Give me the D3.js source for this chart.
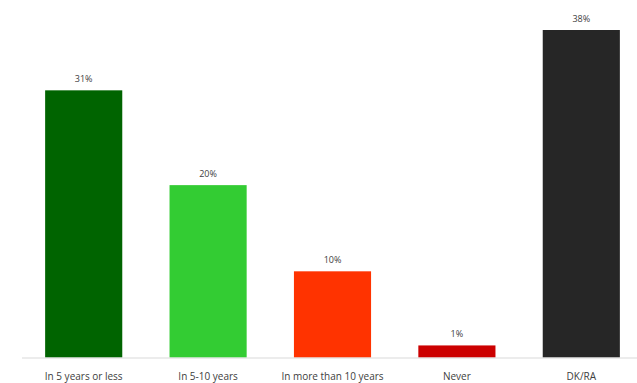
<!DOCTYPE html>
<html>
<head>
<meta charset="utf-8">
<script src="https://cdn.jsdelivr.net/npm/d3@7"></script>
<style>
  html, body { margin: 0; padding: 0; background: #fff; }
  svg { display: block; }
</style>
</head>
<body>
<script>
const categories = ["In 5 years or less", "In 5-10 years", "In more than 10 years", "Never", "DK/RA"];
const values = [31, 20, 10, 1.4, 38];
const valueLabels = ["31%", "20%", "10%", "1%", "38%"];
const colors = ["#006400", "#33cc33", "#ff3300", "#cc0000", "#262626"];

const W = 637, H = 383;
const svg = d3.select("body").append("svg").attr("width", W).attr("height", H);

const x = d3.scaleBand().domain(categories).range([21.5, 643.5]).paddingInner(0.38).paddingOuter(0.19);
const y = d3.scaleLinear().domain([0, 38]).range([357.5, 30]);

svg.selectAll("rect.bar").data(categories).join("rect")
  .attr("class", "bar")
  .attr("x", d => x(d))
  .attr("width", x.bandwidth())
  .attr("y", (d, i) => y(values[i]))
  .attr("height", (d, i) => y(0) - y(values[i]))
  .attr("fill", (d, i) => colors[i]);

svg.selectAll("text.val").data(categories).join("text")
  .attr("class", "val")
  .attr("x", d => x(d) + x.bandwidth() / 2)
  .attr("y", (d, i) => y(values[i]) - 8)
  .attr("text-anchor", "middle")
  .attr("font-family", "'Open Sans', 'DejaVu Sans', sans-serif")
  .attr("font-size", 9)
  .attr("fill", "#404040")
  .text((d, i) => valueLabels[i]);

const axis = d3.axisBottom(x).tickSize(0).tickPadding(15);
const g = svg.append("g").attr("transform", `translate(0,${y(0)})`).call(axis);
g.select(".domain").attr("stroke", "#d9d9d9").attr("d", `M22,0.5H637`);
g.selectAll("text")
  .attr("font-family", "'Open Sans', 'DejaVu Sans', sans-serif")
  .attr("font-size", 10)
  .attr("fill", "#404040");
</script>
</body>
</html>
